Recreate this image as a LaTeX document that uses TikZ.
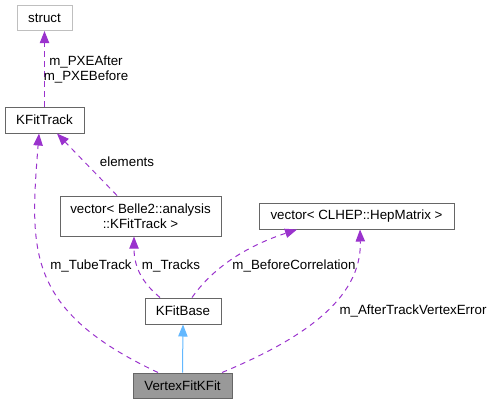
\documentclass[tikz,border=0pt]{standalone}
\usepackage{fontspec}
\setmainfont{Liberation Sans}
\usetikzlibrary{arrows.meta,calc}
\definecolor{edgep}{HTML}{9A32CD}
\definecolor{inhb}{HTML}{63B8FF}
\definecolor{boxg}{HTML}{666666}
\definecolor{extg}{HTML}{BFBFBF}
\definecolor{fillg}{HTML}{999999}
\begin{document}
\begin{tikzpicture}[x=0.75pt,y=-0.75pt,
  cls/.style={draw=boxg, line width=0.75pt, inner sep=0pt, font=\fontsize{10pt}{11.25pt}\selectfont, align=center},
  extcls/.style={cls, draw=extg},
  curcls/.style={cls, fill=fillg},
  lbl/.style={inner sep=0pt, font=\fontsize{10pt}{11.25pt}\selectfont, align=center},
  dep/.style={draw=edgep, line width=0.75pt, dash pattern=on 4pt off 3.5pt, -{Triangle[length=9pt,width=7pt,fill=edgep]}},
  inh/.style={draw=inhb, line width=0.75pt, -{Triangle[length=9pt,width=7pt,fill=inhb]}}
]
\useasboundingbox (0,0) rectangle (491,404);
% nodes
\node[extcls, minimum width=41.25pt, minimum height=18.75pt] (struct) at (44.5,18) {struct};
\node[cls, minimum width=59.25pt, minimum height=19.5pt] (ktrack) at (44.5,120) {KFitTrack};
\node[cls, minimum width=120.75pt, minimum height=30pt] (vecb) at (140.5,216) {vector< Belle2::analysis\\::KFitTrack >};
\node[cls, minimum width=146.25pt, minimum height=19.5pt] (vecc) at (356.5,216) {vector< CLHEP::HepMatrix >};
\node[cls, minimum width=57pt, minimum height=19.5pt] (kbase) at (183,311) {KFitBase};
\node[curcls, minimum width=74.25pt, minimum height=18.75pt] (vfk) at (182.5,385.5) {VertexFitKFit};
% anchor points
\coordinate (eA) at ($(vecb.north)+(-23.5,0)$);
\coordinate (eB) at ($(ktrack.south)+(12.5,0)$);
\coordinate (tA) at ($(vfk.north)+(-24.5,0)$);
\coordinate (tB) at ($(ktrack.south)+(-5.5,0)$);
\coordinate (rA) at ($(kbase.north)+(-23,0)$);
\coordinate (rB) at ($(vecb.south)+(-6.5,0)$);
\coordinate (bA) at ($(kbase.north)+(9,0)$);
\coordinate (bB) at ($(vecc.south)+(-59.5,0)$);
\coordinate (aA) at ($(vfk.north)+(39.5,0)$);
\coordinate (aB) at ($(vecc.south)+(3.5,0)$);
% edges
\draw[dep] (ktrack.north) -- (struct.south);
\draw[dep] (eA) -- (eB);
\draw[dep] (tA) .. controls (25,310) and (30,250) .. (tB);
\draw[dep] (rA) .. controls (145,285) and (134,270) .. (rB);
\draw[dep] (bA) .. controls (215,265) and (250,245) .. (bB);
\draw[dep] (aA) .. controls (300,340) and (362,300) .. (aB);
\draw[inh] (vfk.north) -- (kbase.south);
% labels
\node[lbl] (l1) at (86,69) {m\_PXEAfter\\m\_PXEBefore};
\node[lbl] (l2) at (127,162) {elements};
\node[lbl] (l3) at (91,266) {m\_TubeTrack};
\node[lbl] (l4) at (171,266) {m\_Tracks};
\node[lbl] (l5) at (294,266) {m\_BeforeCorrelation};
\node[lbl] (l6) at (413,311) {m\_AfterTrackVertexError};
\end{tikzpicture}
\end{document}
